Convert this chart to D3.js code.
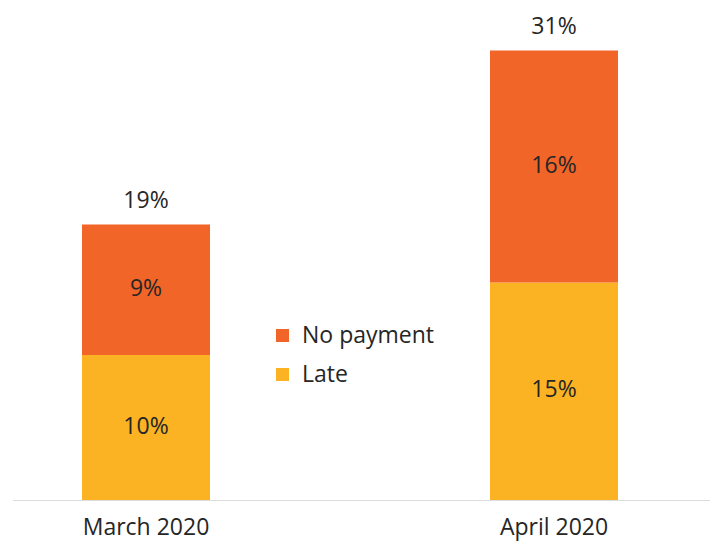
<!DOCTYPE html>
<html>
<head>
<meta charset="utf-8">
<script src="https://cdn.jsdelivr.net/npm/d3@7"></script>
<style>
  html, body { margin: 0; padding: 0; background: #fff; }
  svg { display: block; font-family: "Open Sans", sans-serif; }
</style>
</head>
<body>
<svg id="chart" width="710" height="542"></svg>
<script>
const categories = ["March 2020", "April 2020"];
const late = [10, 15];
const noPayment = [9, 16];
const totals = [19, 31];
const seriesNames = ["No payment", "Late"];

const colors = { "No payment": "#F26529", "Late": "#FBB324" };
const svg = d3.select("#chart");
const W = 710, baseY = 500;

const x = d3.scaleBand().domain(categories).range([10, 690])
  .paddingInner(1 - 128 / 408).paddingOuter(0.1765);
const y = d3.scaleLinear().domain([0, 31]).range([baseY, 50.5]);

const rows = categories.map((c, i) => ({ cat: c, Late: late[i], "No payment": noPayment[i], total: totals[i] }));
const stack = d3.stack().keys(["Late", "No payment"]);
const layers = stack(rows);

// axis line
svg.append("line").attr("x1", 13).attr("x2", W).attr("y1", baseY + 0.5).attr("y2", baseY + 0.5)
  .attr("stroke", "#dcdcdc").attr("stroke-width", 1.2);

const g = svg.append("g");
layers.forEach(layer => {
  g.selectAll(null).data(layer).enter().append("rect")
    .attr("x", d => x(d.data.cat))
    .attr("width", x.bandwidth())
    .attr("y", d => y(d[1]))
    .attr("height", d => y(d[0]) - y(d[1]))
    .attr("fill", colors[layer.key]);
  g.selectAll(null).data(layer).enter().append("text")
    .attr("x", d => x(d.data.cat) + x.bandwidth() / 2)
    .attr("y", d => (y(d[0]) + y(d[1])) / 2 + 6)
    .attr("text-anchor", "middle")
    .attr("font-size", 23)
    .attr("fill", "#262626")
    .text(d => d.data[layer.key] + "%");
});

// totals
g.selectAll(null).data(rows).enter().append("text")
  .attr("x", d => x(d.cat) + x.bandwidth() / 2)
  .attr("y", d => y(d.total) - 17)
  .attr("text-anchor", "middle")
  .attr("font-size", 23)
  .attr("fill", "#262626")
  .text(d => d.total + "%");

// x axis labels
const axis = d3.axisBottom(x).tickSize(0).tickPadding(19);
const ag = svg.append("g").attr("transform", `translate(0,${baseY})`).call(axis);
ag.select(".domain").remove();
ag.selectAll("text").attr("font-size", 23).attr("fill", "#262626")
  .attr("font-family", "'Open Sans', sans-serif");

// legend
const leg = svg.append("g");
seriesNames.forEach((name, i) => {
  const ly = 343 + i * 39;
  leg.append("rect").attr("x", 276).attr("y", ly - 14).attr("width", 13).attr("height", 13)
    .attr("fill", colors[name]);
  leg.append("text").attr("x", 302).attr("y", ly).attr("font-size", 23)
    .attr("fill", "#262626").text(name);
});
</script>
</body>
</html>
